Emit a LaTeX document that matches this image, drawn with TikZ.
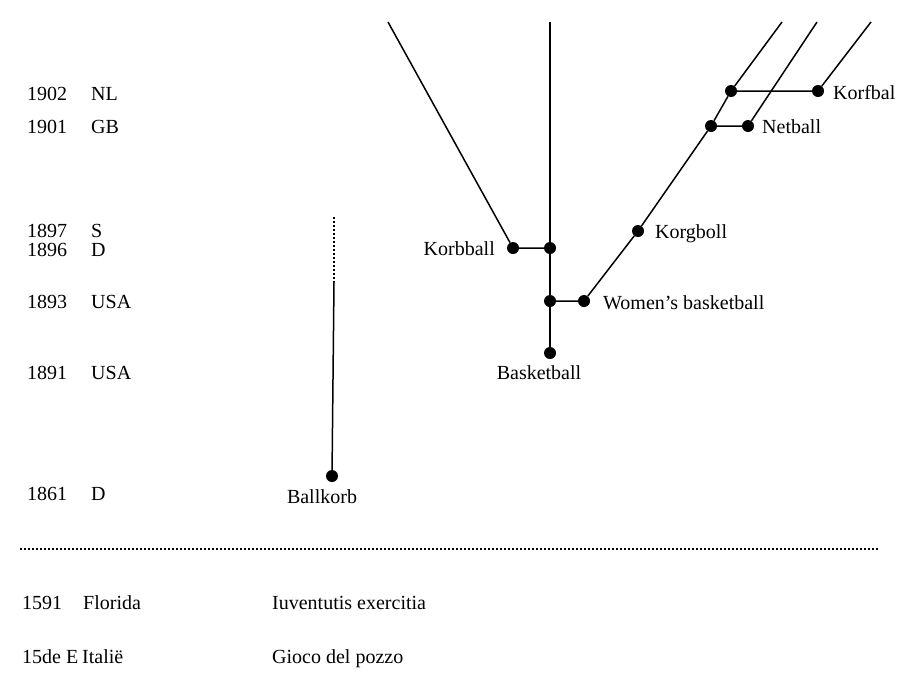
\documentclass[tikz,border=0pt]{standalone}
\usepackage{fontspec}
\setmainfont{Liberation Serif}
\begin{document}
\begin{tikzpicture}[x=1pt,y=-1pt,
  dot/.style={circle,fill=black,inner sep=0pt,minimum size=12pt},
  lbl/.style={font=\fontsize{20}{23}\selectfont,inner sep=0pt,text height=13.5pt,text depth=1pt},
  ln/.style={line width=1.5pt},
  dotline/.style={line width=2.4pt,dash pattern=on 2pt off 2pt}]
\useasboundingbox (0,0) rectangle (905,681);
% left timeline texts
\foreach \n/\yr/\c/\yy in {a/1902/NL/100,b/1901/GB/133,c/1897/S/237,d/1896/D/256,e/1893/USA/308,f/1891/USA/379,g/1861/D/500}{
  \node[lbl,anchor=base west] (y\n) at (27,\yy) {\yr};
  \node[lbl,anchor=base west] (c\n) at (91,\yy) {\c};
}
% bottom texts
\node[lbl,anchor=base west] (y1591) at (22,609) {1591};
\node[lbl,anchor=base west] (cflo) at (83,609) {Florida};
\node[lbl,anchor=base west] (iuv) at (272,609) {Iuventutis exercitia};
\node[lbl,anchor=base west] (y15) at (22,663) {15de E};
\node[lbl,anchor=base west] (cita) at (82,663) {Italië};
\node[lbl,anchor=base west] (gioco) at (272,663) {Gioco del pozzo};
% separator
\coordinate (sepL) at (20,549);
\coordinate (sepR) at (878,549);
\draw[dotline] (sepL) -- (sepR);
% Ballkorb
\node[dot] (ballkorb) at (332,476) {};
\node[lbl,anchor=base] (lballkorb) at (322,503) {Ballkorb};
\coordinate (bktop) at (334,217);
\coordinate (bkmid) at (334,282);
\draw[dotline] (bktop) -- (bkmid);
\draw[ln] (bkmid) -- (ballkorb);
% main tree
\node[dot] (basket) at (550,353) {};
\node[dot] (jw) at (550,301) {};
\node[dot] (jk) at (550,248) {};
\node[dot] (korbball) at (513,248) {};
\node[dot] (women) at (584,301) {};
\node[dot] (korgboll) at (638,231) {};
\node[dot] (jn) at (711,126) {};
\node[dot] (netball) at (748,126) {};
\node[dot] (jf) at (731,91) {};
\node[dot] (korfbal) at (818,91) {};
\coordinate (topmain) at (550,22);
\coordinate (topkorb) at (388,22);
\coordinate (topwom) at (782,22);
\coordinate (topnet) at (817,22);
\coordinate (topkorf) at (871,22);
\draw[ln] (basket) -- (jw) -- (jk) -- (topmain);
\draw[ln] (jk) -- (korbball) -- (topkorb);
\draw[ln] (jw) -- (women) -- (korgboll) -- (jn) -- (jf) -- (topwom);
\draw[ln] (jn) -- (netball) -- (topnet);
\draw[ln] (jf) -- (korfbal) -- (topkorf);
% labels
\node[lbl,anchor=base east] (lkorbball) at (495,255) {Korbball};
\node[lbl,anchor=base west] (lkorgboll) at (655,238) {Korgboll};
\node[lbl,anchor=base west] (lwomen) at (603,309) {Women’s basketball};
\node[lbl,anchor=base] (lbasket) at (539,379) {Basketball};
\node[lbl,anchor=base west] (lnetball) at (762,133) {Netball};
\node[lbl,anchor=base west] (lkorfbal) at (833,99) {Korfbal};
\end{tikzpicture}
\end{document}
